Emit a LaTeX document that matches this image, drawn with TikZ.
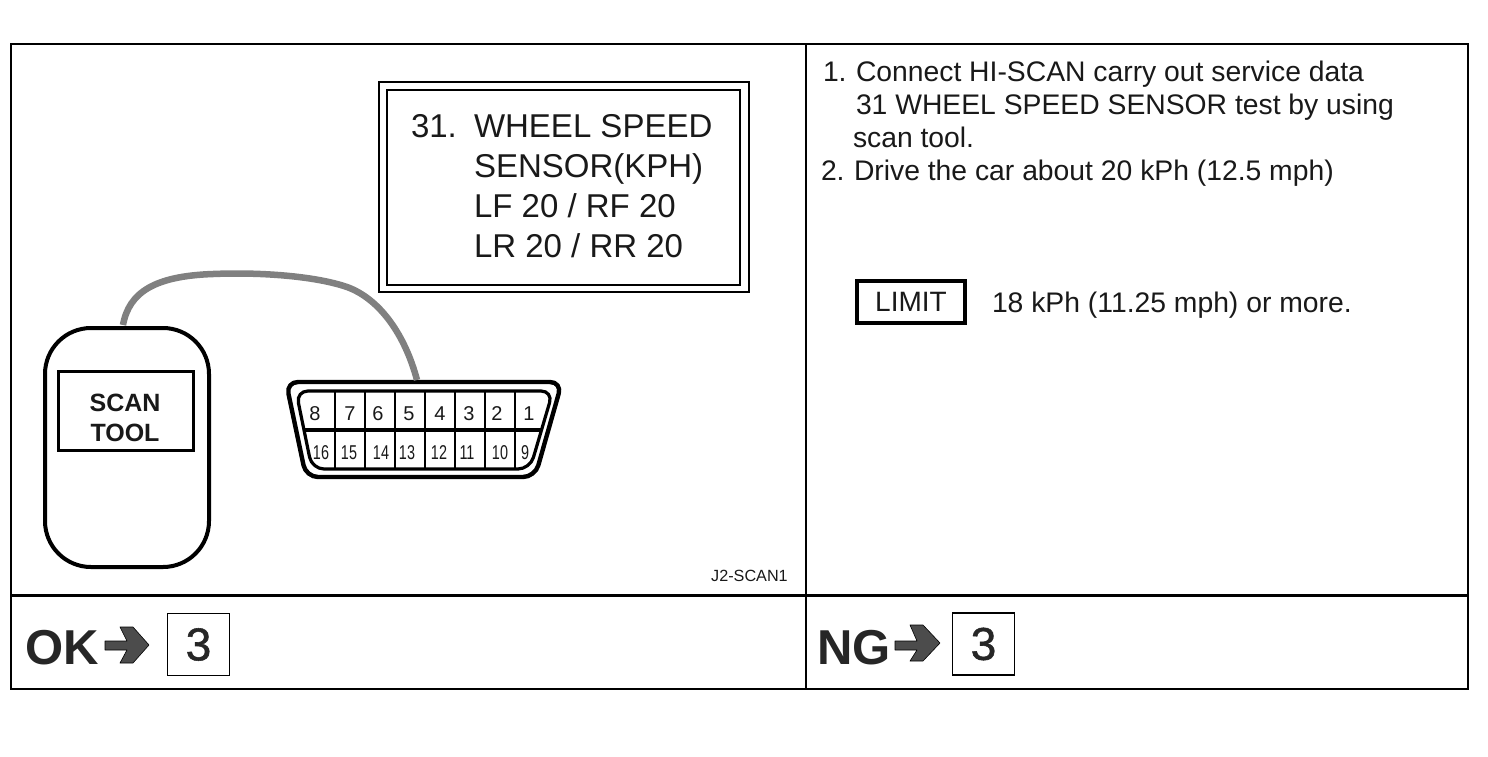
\documentclass[tikz,border=0pt]{standalone}
\usepackage{fontspec}
\setmainfont{Liberation Sans}
\newfontfamily\heavydigits[FakeBold=1.2]{Liberation Sans}
\newcommand{\fs}[1]{\fontsize{#1}{#1}\selectfont}
\tikzset{
  x=1pt,y=-1pt,
  frameline/.style={draw=black,line width=1.8pt},
  heavyline/.style={draw=black,line width=3pt},
  txt/.style={anchor=base west,inner sep=0pt,outer sep=0pt,text=black!90},
  paneltxt/.style={txt,font=\fs{33}},
  steptxt/.style={txt,font=\fs{28.3}},
  pin/.style={anchor=base,inner sep=0pt,font=\fs{20},text=black!90},
  pinb/.style={anchor=base,inner sep=0pt,font=\fs{20},xscale=.72,text=black!90},
  gobox/.style={draw=black,line width=1.6pt,minimum width=62pt,minimum height=62pt,inner sep=0pt,font=\heavydigits\fs{46},text=black!85},
  gotxt/.style={anchor=base west,inner sep=0pt,font=\bfseries\fs{49},text=black!85},
  goarrow/.style={fill=black!70,draw=black,line width=.6pt,line join=round},
  cable/.style={draw=black!50,line width=6.5pt,line cap=butt},
}
\begin{document}
\begin{tikzpicture}
\useasboundingbox (0,0) rectangle (1488,756);
\fill[white] (0,0) rectangle (1488,756);
% frames
\draw[frameline] (11,44) rectangle (1468,689);
\draw[frameline] (806,44) -- (806,689);
\draw[heavyline] (11,595) -- (1468,595);
% panel
\draw[line width=1.5pt] (379,82) rectangle (749,292);
\draw[line width=1.3pt] (387,90) rectangle (740,285);
\node[paneltxt] (p0) at (411,137) {31.};
\node[paneltxt] (p1) at (474,137) {WHEEL SPEED};
\node[paneltxt] (p2) at (474,177) {SENSOR(KPH)};
\node[paneltxt] (p3) at (474,217) {LF 20 / RF 20};
\node[paneltxt] (p4) at (474,257) {LR 20 / RR 20};
% scan tool
\node[draw=black,line width=4pt,rounded corners=46pt,minimum width=164pt,minimum height=239pt,inner sep=0pt] (tool) at (127,447.5) {};
\node[draw=black,line width=2.4pt,minimum width=135pt,minimum height=79pt,inner sep=0pt] (screen) at (126,411) {};
\node[anchor=base,inner sep=0pt,font=\bfseries\fs{25},text=black!90] (scan) at (125,411) {SCAN};
\node[anchor=base,inner sep=0pt,font=\bfseries\fs{25},text=black!90] (tooltxt) at (125,441) {TOOL};
% connector
\draw[line width=4.4pt,rounded corners=12pt,line join=round] (286,382) -- (562,382) -- (535,477) -- (306,477) -- cycle;
\draw[line width=3.2pt,rounded corners=12pt,line join=round] (296,391) -- (553,391) -- (530,469) -- (312,469) -- cycle;
\draw[line width=3.2pt] (304,430) -- (542,430);
\foreach \x in {335,365,395,425,455,485,515} \draw[line width=2.8pt] (\x,391) -- (\x,469);
\coordinate (connport) at (417,380);
\coordinate (toolport) at (123,325);
\coordinate (cabletop) at (213,274);
\coordinate (cablemid) at (347,287);
\draw[cable] (toolport) .. controls (129,292) and (155,276) .. (cabletop) .. controls (260,272) and (315,276) .. (cablemid) .. controls (380,299) and (405,335) .. (connport);
\foreach \x/\t/\n in {315/8/a,350/7/b,378/6/c,409/5/d,440/4/e,469/3/f,497/2/g,529/1/h}
  \node[pin] (top\n) at (\x,420) {\t};
\foreach \x/\t/\n in {321/16/a,349/15/b,381/14/c,407/13/d,439/12/e,467/11/f,500/10/g,525/9/h}
  \node[pinb] (bot\n) at (\x,459) {\t};
\node[anchor=base west,inner sep=0pt,font=\fs{16.2},text=black!90] (code) at (711,581) {J2-SCAN1};
% steps
\node[steptxt] (s1n) at (823,81) {1.};
\node[steptxt] (s1a) at (856,81) {Connect HI-SCAN carry out service data};
\node[steptxt] (s1b) at (856,114) {31 WHEEL SPEED SENSOR test by using};
\node[steptxt] (s1c) at (853,147) {scan tool.};
\node[steptxt] (s2n) at (821,180) {2.};
\node[steptxt] (s2a) at (854,180) {Drive the car about 20 kPh (12.5 mph)};
\node[draw=black,line width=4pt,minimum width=108pt,minimum height=42pt,inner sep=0pt,font=\fs{28},text=black!90] (limit) at (911,302) {LIMIT};
\node[steptxt] (limtxt) at (992,312) {18 kPh (11.25 mph) or more.};
% bottom
\node[gotxt] (ok) at (25,664) {OK};
\draw[goarrow] (105,641) -- (127,641) -- (120,627) -- (133,627) -- (149,645) -- (133,663) -- (120,663) -- (127,650) -- (105,650) -- cycle;
\node[gobox] (okbox) at (198.5,644.5) {3};
\node[gotxt] (ng) at (817,664) {NG};
\draw[goarrow] (895,641) -- (917,641) -- (910,625) -- (923,625) -- (940,643) -- (923,661) -- (910,661) -- (917,650) -- (895,650) -- cycle;
\node[gobox] (ngbox) at (983.5,644) {3};
\end{tikzpicture}
\end{document}
